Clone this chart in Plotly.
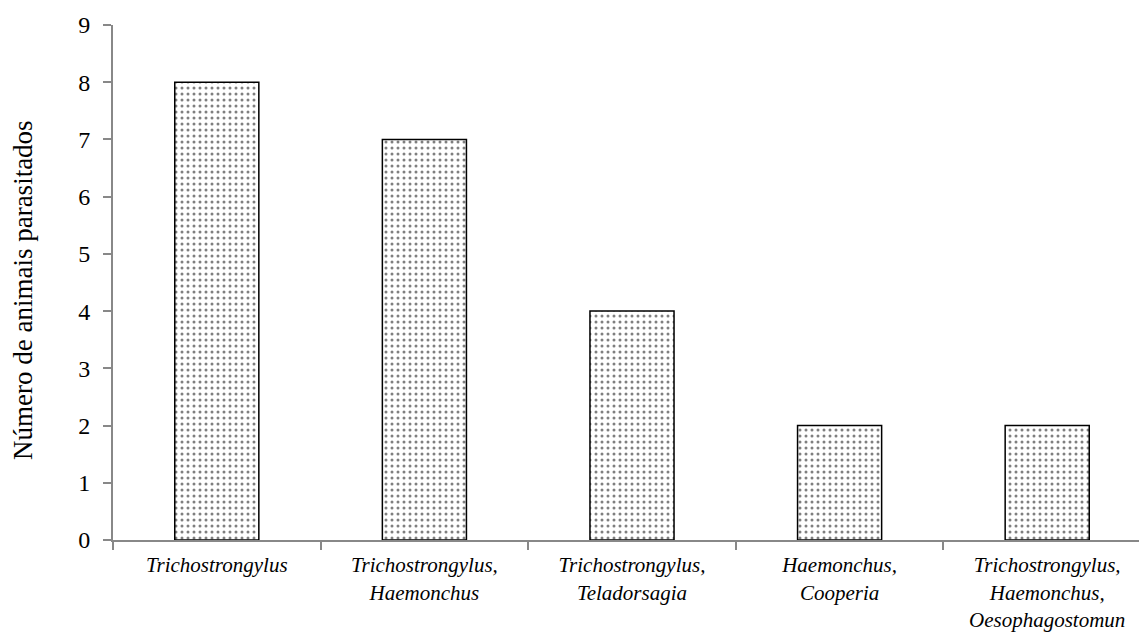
import plotly.graph_objects as go

categories = [
    "<i>Trichostrongylus</i>",
    "<i>Trichostrongylus,<br>Haemonchus</i>",
    "<i>Trichostrongylus,<br>Teladorsagia</i>",
    "<i>Haemonchus,<br>Cooperia</i>",
    "<i>Trichostrongylus,<br>Haemonchus,<br>Oesophagostomun</i>",
]
values = [8, 7, 4, 2, 2]
y_ticks = list(range(0, 10))
y_title = "Número de animais parasitados"

SERIF = "Liberation Serif"

fig = go.Figure()
fig.add_trace(go.Bar(
    x=categories,
    y=values,
    width=0.405,
    marker=dict(
        color="white",
        line=dict(color="black", width=1.5),
        pattern=dict(shape=".", fgcolor="black", bgcolor="white", size=6, solidity=0.2),
    ),
))

fig.update_layout(
    width=1147, height=635,
    margin=dict(l=105, r=4, t=17, b=103),
    paper_bgcolor="white", plot_bgcolor="white",
    showlegend=False,
    font=dict(family=SERIF, color="black"),
    annotations=[dict(
        text=y_title, textangle=-90, showarrow=False,
        xref="paper", yref="paper", x=-0.0867, y=0.4854,
        xanchor="center", yanchor="middle",
        font=dict(family=SERIF, size=27, color="black"),
    )],
)
fig.update_xaxes(
    type="category",
    tickson="boundaries",
    ticks="outside", ticklen=8, tickcolor="#888888", tickwidth=2,
    ticklabelstandoff=5,
    showline=True, linecolor="#888888", linewidth=2,
    showgrid=False, automargin=False,
    tickfont=dict(family=SERIF, size=21, color="black"),
)
fig.update_yaxes(
    range=[0, 9],
    tickvals=y_ticks,
    ticks="outside", ticklen=8, tickcolor="#888888", tickwidth=2,
    ticklabelstandoff=8,
    showline=True, linecolor="#888888", linewidth=2,
    showgrid=False, zeroline=False, automargin=False,
    tickfont=dict(family=SERIF, size=24, color="black"),
)

fig.write_html("out.html")
